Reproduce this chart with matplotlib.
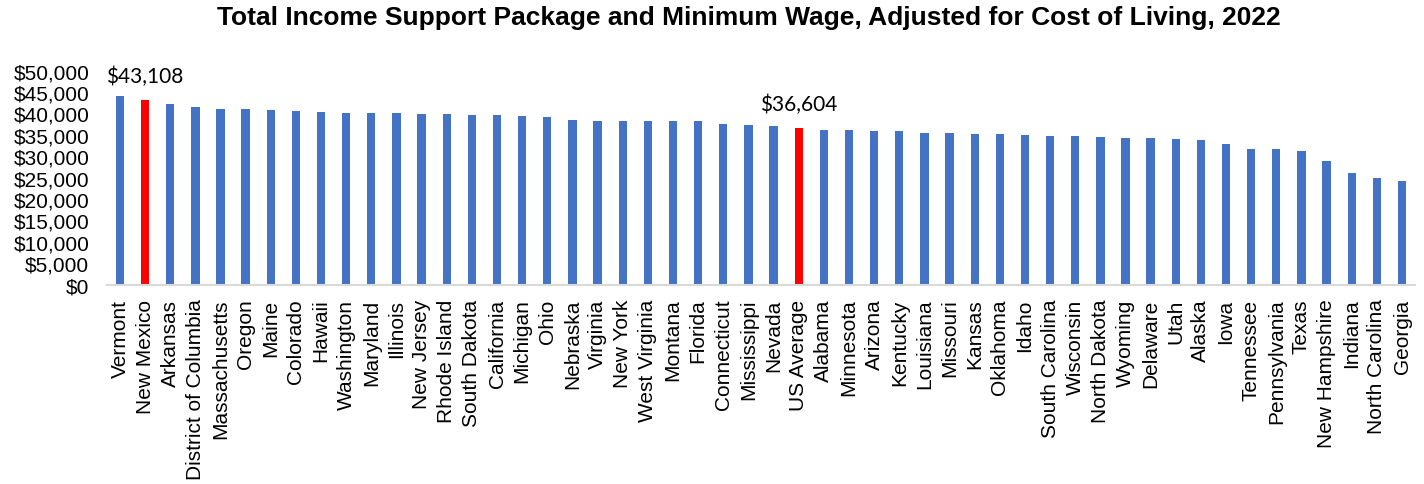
import matplotlib
matplotlib.use('Agg')
import matplotlib.pyplot as plt

# Values
states = ['Vermont', 'New Mexico', 'Arkansas', 'District of Columbia', 'Massachusetts',
          'Oregon', 'Maine', 'Colorado', 'Hawaii', 'Washington', 'Maryland', 'Illinois',
          'New Jersey', 'Rhode Island', 'South Dakota', 'California', 'Michigan', 'Ohio',
          'Nebraska', 'Virginia', 'New York', 'West Virginia', 'Montana', 'Florida',
          'Connecticut', 'Mississippi', 'Nevada', 'US Average', 'Alabama', 'Minnesota',
          'Arizona', 'Kentucky', 'Louisiana', 'Missouri', 'Kansas', 'Oklahoma', 'Idaho',
          'South Carolina', 'Wisconsin', 'North Dakota', 'Wyoming', 'Delaware', 'Utah',
          'Alaska', 'Iowa', 'Tennessee', 'Pennsylvania', 'Texas', 'New Hampshire',
          'Indiana', 'North Carolina', 'Georgia']
income = [44060, 43108, 42120, 41490, 41030,
          41030, 40790, 40640, 40400, 40170, 40010, 40010,
          39860, 39860, 39700, 39700, 39390, 39160,
          38540, 38300, 38300, 38220, 38220, 38220,
          37450, 37210, 37060, 36604, 36050, 36050,
          35890, 35810, 35420, 35420, 35270, 35110, 34880,
          34800, 34720, 34570, 34330, 34330, 34100,
          33790, 32780, 31650, 31600, 31300, 28960,
          26080, 24910, 24140]
highlight = ['New Mexico', 'US Average']

plt.rcParams['font.family'] = ['Liberation Sans', 'DejaVu Sans']

fig = plt.figure(figsize=(14.24, 4.85), dpi=100)
ax = fig.add_axes([0.0754, 0.4109, 0.918, 0.4415])

colors = ['#FF0000' if s in highlight else '#4472C4' for s in states]
x = list(range(len(states)))
ax.bar(x, income, width=0.33, color=colors, zorder=2)

for i, s in enumerate(states):
    if s in highlight:
        ax.text(i, income[i] + 3300, '${:,}'.format(income[i]), ha='center', va='bottom',
                fontsize=15, family=['Lato', 'DejaVu Sans'], color='black')

ax.set_xlim(-0.5, len(states) - 0.5)
ax.set_ylim(0, 50000)
ax.set_yticks(range(0, 50001, 5000))
ax.set_yticklabels(['${:,}'.format(v) for v in range(0, 50001, 5000)], fontsize=15)
ax.set_xticks(x)
ax.set_xticklabels(states, rotation=90, fontsize=15)
ax.tick_params(axis='both', length=0)
ax.tick_params(axis='y', pad=13)
ax.tick_params(axis='x', pad=10)

for side in ['top', 'right', 'left']:
    ax.spines[side].set_visible(False)
ax.spines['bottom'].set_color('#D9D9D9')
ax.spines['bottom'].set_linewidth(1.5)

fig.text(0.526, 0.963, 'Total Income Support Package and Minimum Wage, Adjusted for Cost of Living, 2022',
         ha='center', va='center', fontsize=19, fontweight='bold')

fig.savefig('out.png', dpi=100)
